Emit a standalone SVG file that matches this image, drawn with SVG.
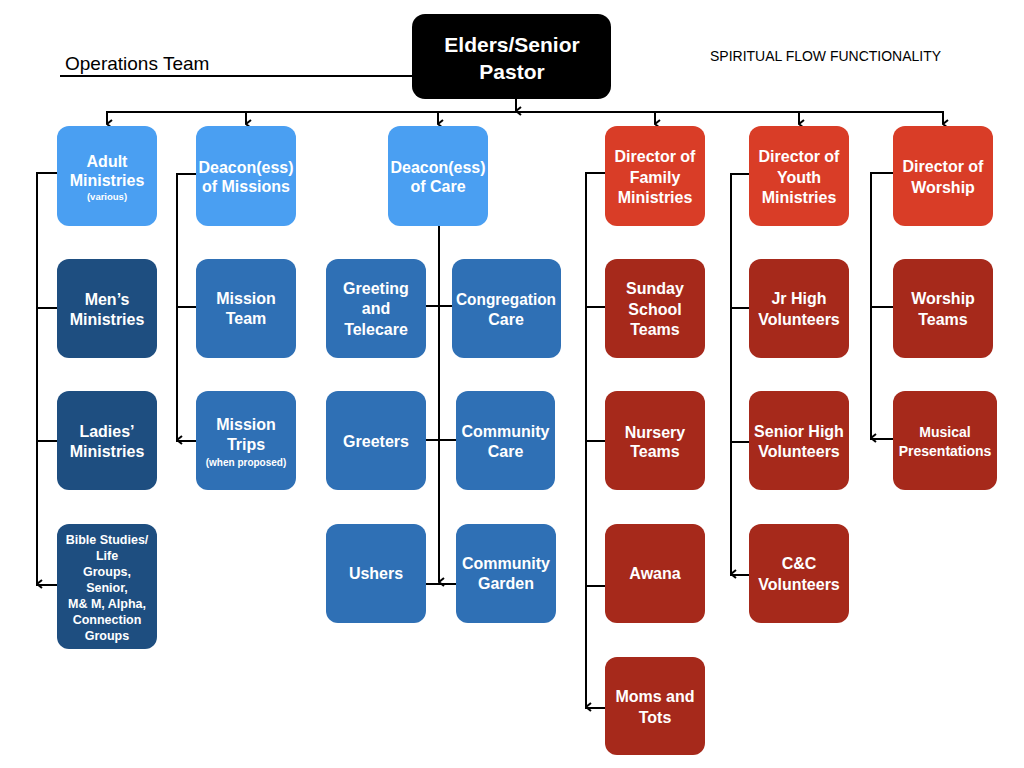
<svg xmlns="http://www.w3.org/2000/svg" width="1024" height="768" viewBox="0 0 1024 768">
<style>
.n text{font-family:"Liberation Sans",Arial,Helvetica,sans-serif;font-weight:bold;fill:#fff;text-anchor:middle;font-size:16px}
.lb{fill:#4a9ff2}
.mb{fill:#2f70b5}
.db{fill:#1e4e80}
.rt{fill:#d93d27}
.rd{fill:#a6291b}
.c{fill:none;stroke:#000;stroke-width:2}
.s{font-size:9.5px!important}
.plain{font-family:"Liberation Sans",Arial,Helvetica,sans-serif;fill:#000}
</style>
<defs>
<marker id="ar" viewBox="0 0 10 10" refX="5" refY="9" markerWidth="10" markerHeight="10" markerUnits="userSpaceOnUse" orient="auto-start-reverse">
<path d="M1,4 L5,9 L9,4" fill="none" stroke="#000" stroke-width="2"/>
</marker>
</defs>
<rect width="1024" height="768" fill="#fff"/>

<text class="plain" x="65" y="70" font-size="19">Operations Team</text>
<text class="plain" x="710" y="61" font-size="14" textLength="231" lengthAdjust="spacingAndGlyphs">SPIRITUAL FLOW FUNCTIONALITY</text>

<g id="connectors">
<line class="c" x1="60" y1="76" x2="412" y2="76"/>
<line class="c" x1="516" y1="99" x2="516" y2="111" marker-end="url(#ar)"/>
<line class="c" x1="106" y1="112" x2="944" y2="112"/>
<line class="c" x1="107" y1="112" x2="107" y2="124" marker-end="url(#ar)"/>
<line class="c" x1="246" y1="112" x2="246" y2="124" marker-end="url(#ar)"/>
<line class="c" x1="438" y1="112" x2="438" y2="124" marker-end="url(#ar)"/>
<line class="c" x1="655" y1="112" x2="655" y2="124" marker-end="url(#ar)"/>
<line class="c" x1="799" y1="112" x2="799" y2="124" marker-end="url(#ar)"/>
<line class="c" x1="943" y1="112" x2="943" y2="124" marker-end="url(#ar)"/>

<polyline class="c" points="57,173 37,173 37,585 57,585"/>
<line class="c" x1="37" y1="173" x2="37" y2="584" marker-end="url(#ar)"/>
<line class="c" x1="37" y1="308" x2="57" y2="308"/>
<line class="c" x1="37" y1="441" x2="57" y2="441"/>

<polyline class="c" points="196,174 177,174 177,441 196,441"/>
<line class="c" x1="177" y1="174" x2="177" y2="440" marker-end="url(#ar)"/>
<line class="c" x1="177" y1="307" x2="196" y2="307"/>

<line class="c" x1="439" y1="226" x2="439" y2="582" marker-end="url(#ar)"/>
<line class="c" x1="425" y1="306" x2="452" y2="306"/>
<line class="c" x1="425" y1="440" x2="456" y2="440"/>
<line class="c" x1="425" y1="584" x2="456" y2="584"/>

<polyline class="c" points="605,173 586,173 586,708 605,708"/>
<line class="c" x1="586" y1="173" x2="586" y2="707" marker-end="url(#ar)"/>
<line class="c" x1="586" y1="307" x2="605" y2="307"/>
<line class="c" x1="586" y1="441" x2="605" y2="441"/>
<line class="c" x1="586" y1="586" x2="605" y2="586"/>

<polyline class="c" points="749,174 731,174 731,575 749,575"/>
<line class="c" x1="731" y1="174" x2="731" y2="574" marker-end="url(#ar)"/>
<line class="c" x1="731" y1="308" x2="749" y2="308"/>
<line class="c" x1="731" y1="442" x2="749" y2="442"/>

<polyline class="c" points="893,173 871,173 871,439 893,439"/>
<line class="c" x1="871" y1="173" x2="871" y2="438" marker-end="url(#ar)"/>
<line class="c" x1="871" y1="307" x2="893" y2="307"/>
</g>

<g id="elders" class="n"><rect x="412" y="14" width="199" height="85" rx="13" fill="#000"/><text x="512" y="51.5" style="font-size:21px">Elders/Senior</text><text x="512" y="78.5" style="font-size:21px">Pastor</text></g>

<g id="adult" class="n"><rect class="lb" x="57" y="126" width="100" height="100" rx="12"/><text x="107" y="166.5">Adult</text><text x="107" y="185.5">Ministries</text><text x="107" y="199.5" class="s">(various)</text></g>
<g id="deacon-missions" class="n"><rect class="lb" x="196" y="126" width="100" height="100" rx="12"/><text x="246" y="172.5">Deacon(ess)</text><text x="246" y="191.5">of Missions</text></g>
<g id="deacon-care" class="n"><rect class="lb" x="388" y="126" width="100" height="100" rx="12"/><text x="438" y="172.5">Deacon(ess)</text><text x="438" y="191.5">of Care</text></g>
<g id="dir-family" class="n"><rect class="rt" x="605" y="126" width="100" height="100" rx="12"/><text x="655" y="161.5">Director of</text><text x="655" y="182.5">Family</text><text x="655" y="202.5">Ministries</text></g>
<g id="dir-youth" class="n"><rect class="rt" x="749" y="126" width="100" height="100" rx="12"/><text x="799" y="161.5">Director of</text><text x="799" y="182.5">Youth</text><text x="799" y="202.5">Ministries</text></g>
<g id="dir-worship" class="n"><rect class="rt" x="893" y="126" width="100" height="100" rx="12"/><text x="943" y="171.5">Director of</text><text x="943" y="192.5">Worship</text></g>

<g id="mens" class="n"><rect class="db" x="57" y="259" width="100" height="99" rx="12"/><text x="107" y="304.5">Men’s</text><text x="107" y="324.5">Ministries</text></g>
<g id="mission-team" class="n"><rect class="mb" x="196" y="259" width="100" height="99" rx="12"/><text x="246" y="303.5">Mission</text><text x="246" y="323.5">Team</text></g>
<g id="greeting" class="n"><rect class="mb" x="326" y="259" width="100" height="99" rx="12"/><text x="376" y="293.5">Greeting</text><text x="376" y="313.5">and</text><text x="376" y="334.5">Telecare</text></g>
<g id="congregation" class="n"><rect class="mb" x="452" y="259" width="109" height="99" rx="12"/><text x="506" y="304.5" textLength="100" lengthAdjust="spacingAndGlyphs">Congregation</text><text x="506" y="324.5">Care</text></g>
<g id="sunday" class="n"><rect class="rd" x="605" y="259" width="100" height="99" rx="12"/><text x="655" y="293.5">Sunday</text><text x="655" y="314.5">School</text><text x="655" y="334.5">Teams</text></g>
<g id="jrhigh" class="n"><rect class="rd" x="749" y="259" width="100" height="99" rx="12"/><text x="799" y="303.5">Jr High</text><text x="799" y="324.5">Volunteers</text></g>
<g id="worship-teams" class="n"><rect class="rd" x="893" y="259" width="100" height="99" rx="12"/><text x="943" y="303.5">Worship</text><text x="943" y="324.5">Teams</text></g>

<g id="ladies" class="n"><rect class="db" x="57" y="391" width="100" height="99" rx="12"/><text x="107" y="436.5">Ladies’</text><text x="107" y="456.5">Ministries</text></g>
<g id="mission-trips" class="n"><rect class="mb" x="196" y="391" width="100" height="99" rx="12"/><text x="246" y="429.5">Mission</text><text x="246" y="449.5">Trips</text><text x="246" y="465.5" style="font-size:10px">(when proposed)</text></g>
<g id="greeters" class="n"><rect class="mb" x="326" y="391" width="100" height="99" rx="12"/><text x="376" y="446.5">Greeters</text></g>
<g id="community-care" class="n"><rect class="mb" x="456" y="391" width="99" height="99" rx="12"/><text x="505.5" y="436.5">Community</text><text x="505.5" y="456.5">Care</text></g>
<g id="nursery" class="n"><rect class="rd" x="605" y="391" width="100" height="99" rx="12"/><text x="655" y="437.5">Nursery</text><text x="655" y="456.5">Teams</text></g>
<g id="senior-high" class="n"><rect class="rd" x="749" y="391" width="100" height="99" rx="12"/><text x="799" y="436.5">Senior High</text><text x="799" y="456.5">Volunteers</text></g>
<g id="musical" class="n"><rect class="rd" x="893" y="391" width="104" height="99" rx="12"/><text x="945" y="437" style="font-size:14px">Musical</text><text x="945" y="456" style="font-size:14px">Presentations</text></g>

<g id="bible" class="n"><rect class="db" x="57" y="524" width="100" height="125" rx="12"/><text x="107" y="543.5" style="font-size:12.5px">Bible Studies/</text><text x="107" y="559.5" style="font-size:12.5px">Life</text><text x="107" y="576" style="font-size:12.5px">Groups,</text><text x="107" y="591.5" style="font-size:12.5px">Senior,</text><text x="107" y="607.5" style="font-size:12.5px">M&amp; M, Alpha,</text><text x="107" y="623.5" style="font-size:12.5px">Connection</text><text x="107" y="639.5" style="font-size:12.5px">Groups</text></g>
<g id="ushers" class="n"><rect class="mb" x="326" y="524" width="100" height="99" rx="12"/><text x="376" y="578.5">Ushers</text></g>
<g id="community-garden" class="n"><rect class="mb" x="456" y="524" width="100" height="99" rx="12"/><text x="506" y="568.5">Community</text><text x="506" y="588.5">Garden</text></g>
<g id="awana" class="n"><rect class="rd" x="605" y="524" width="100" height="99" rx="12"/><text x="655" y="578.5">Awana</text></g>
<g id="cc" class="n"><rect class="rd" x="749" y="524" width="100" height="99" rx="12"/><text x="799" y="568.5">C&amp;C</text><text x="799" y="589.5">Volunteers</text></g>

<g id="moms" class="n"><rect class="rd" x="605" y="657" width="100" height="98" rx="12"/><text x="655" y="701.5">Moms and</text><text x="655" y="722.5">Tots</text></g>
</svg>
